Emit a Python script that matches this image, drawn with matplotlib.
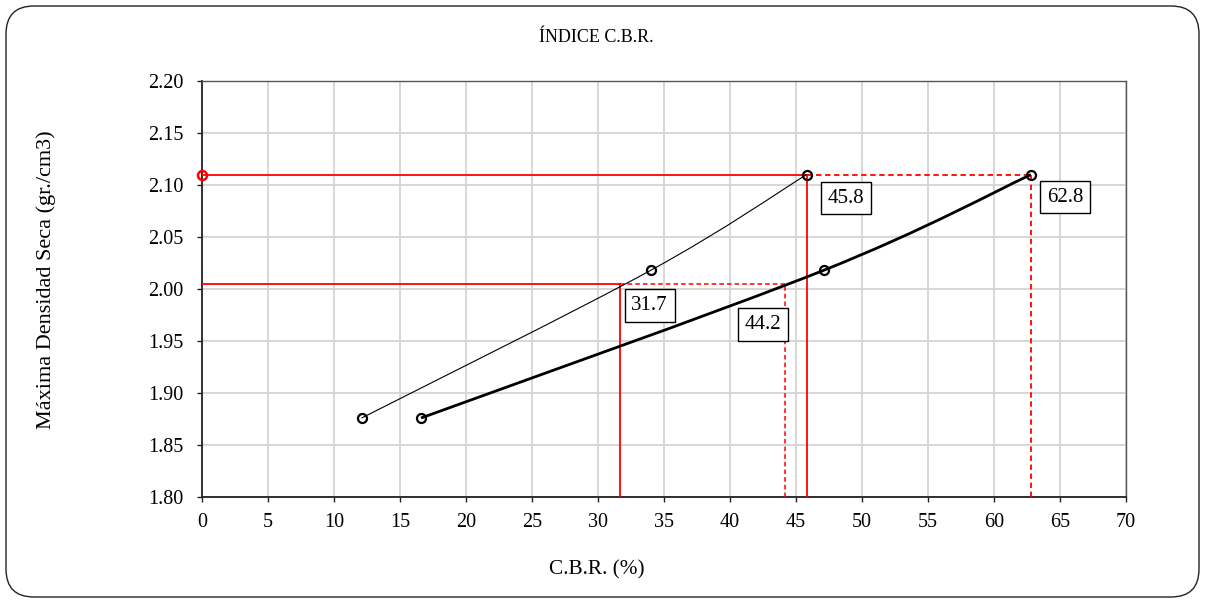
import numpy as np
import matplotlib
matplotlib.use('Agg')
import matplotlib.pyplot as plt
from matplotlib.path import Path
from matplotlib.patches import PathPatch, FancyBboxPatch

plt.rcParams['font.family'] = ['Liberation Serif', 'DejaVu Serif']

# ensayo CBR: 56 golpes / 25 golpes
cbr_01 = [12.1, 34.0, 45.8]      # penetracion 0.1"
cbr_02 = [16.6, 47.1, 62.8]      # penetracion 0.2"
densidad = [1.876, 2.018, 2.110]

mdd = 2.110
mdd95 = 2.0045
cbr_100 = [45.8, 62.8]
cbr_95 = [31.7, 44.2]

xticks = list(range(0, 75, 5))
yticks = [1.80, 1.85, 1.90, 1.95, 2.00, 2.05, 2.10, 2.15, 2.20]


def smooth_path(xs, ys):
    # curva suavizada tipo Catmull-Rom por tramos Bezier
    p = np.column_stack([xs, ys])
    n = len(p)
    verts = [p[0]]
    codes = [Path.MOVETO]
    for i in range(n - 1):
        p0 = p[i - 1] if i > 0 else p[i]
        p3 = p[i + 2] if i + 2 < n else p[i + 1]
        c1 = p[i] + (p[i + 1] - p0) / 6.0
        c2 = p[i + 1] - (p3 - p[i]) / 6.0
        verts += [c1, c2, p[i + 1]]
        codes += [Path.CURVE4] * 3
    return Path(verts, codes)


fig = plt.figure(figsize=(12.05, 6.01), dpi=100)
fig.patches.append(FancyBboxPatch((0.06, 0.04), 11.93, 5.91,
                                  boxstyle='round,pad=0,rounding_size=0.28',
                                  transform=fig.dpi_scale_trans, fc='white',
                                  ec='#222222', lw=1.0, zorder=-1))
ax = fig.add_axes([0.1676, 0.1730, 0.7668, 0.6922])

ax.set_xlim(0, 70)
ax.set_ylim(1.80, 2.20)
ax.set_xticks(xticks)
ax.set_yticks(yticks)
ax.set_yticklabels(['%.2f' % v for v in yticks])
ax.grid(True, color='#d4d4d4', lw=1.3)
ax.set_axisbelow(True)
ax.tick_params(labelsize=14.5, direction='out', length=3.6, width=1, color='#222222')
ax.tick_params(axis='y', pad=10)
ax.tick_params(axis='x', pad=8)
for s in ['left', 'bottom']:
    ax.spines[s].set_color('#222222')
    ax.spines[s].set_linewidth(1.3)
for s in ['top', 'right']:
    ax.spines[s].set_color('#555555')
    ax.spines[s].set_linewidth(1.0)

# lineas de referencia en rojo
ax.plot([0, cbr_100[0]], [mdd, mdd], color='red', lw=1.3, zorder=3)
ax.plot([cbr_100[0], cbr_100[1]], [mdd, mdd], color='red', lw=1.3, ls=(0, (3, 2)), zorder=3)
ax.plot([cbr_100[0], cbr_100[0]], [1.80, mdd], color='red', lw=1.3, zorder=3)
ax.plot([cbr_100[1], cbr_100[1]], [1.80, mdd], color='red', lw=1.3, ls=(0, (3, 2)), zorder=3)
ax.plot([0, cbr_95[0]], [mdd95, mdd95], color='red', lw=1.3, zorder=3)
ax.plot([cbr_95[0], cbr_95[1]], [mdd95, mdd95], color='red', lw=1.1, ls=(0, (3, 2)), zorder=3)
ax.plot([cbr_95[0], cbr_95[0]], [1.80, mdd95], color='red', lw=1.3, zorder=3)
ax.plot([cbr_95[1], cbr_95[1]], [1.80, mdd95], color='red', lw=1.1, ls=(0, (3, 2)), zorder=3)
ax.plot([0], [mdd], 'o', ms=6.5, mfc='none', mec='red', mew=1.8, clip_on=False, zorder=5)

# curvas CBR
ax.add_patch(PathPatch(smooth_path(cbr_01, densidad), fc='none', ec='black', lw=0.8, zorder=4))
ax.add_patch(PathPatch(smooth_path(cbr_02, densidad), fc='none', ec='black', lw=2.0, zorder=4))
ax.plot(cbr_01, densidad, 'o', ls='none', ms=6.5, mfc='none', mec='black', mew=1.6, zorder=5)
ax.plot(cbr_02, densidad, 'o', ls='none', ms=6.5, mfc='none', mec='black', mew=1.6, zorder=5)

box = dict(boxstyle='square,pad=0.33', fc='white', ec='black', lw=1.0)
etiquetas = [(cbr_100[0], mdd, 14, -8, 'left'),
             (cbr_100[1], mdd, 9, -7, 'left'),
             (cbr_95[0], mdd95, 4, -6, 'left'),
             (cbr_95[1], mdd95, 3, -25, 'right')]
for xv, yv, dx, dy, ha in etiquetas:
    ax.annotate('%.1f' % xv, (xv, yv), xytext=(dx + (7 if ha == 'left' else -7), dy - 6),
                textcoords='offset pixels', ha=ha, va='top', fontsize=15,
                bbox=box, zorder=6)

fig.text(0.495, 1 - 38 / 601, 'ÍNDICE C.B.R.', ha='center', va='center', fontsize=13)
fig.text(0.495, 1 - 570 / 601, 'C.B.R. (%)', ha='center', va='center', fontsize=15.3)
fig.text(46 / 1205, 1 - 280 / 601, 'Máxima Densidad Seca (gr./cm3)', ha='center',
         va='center', rotation=90, fontsize=16)

fig.savefig('out.png', dpi=100)
